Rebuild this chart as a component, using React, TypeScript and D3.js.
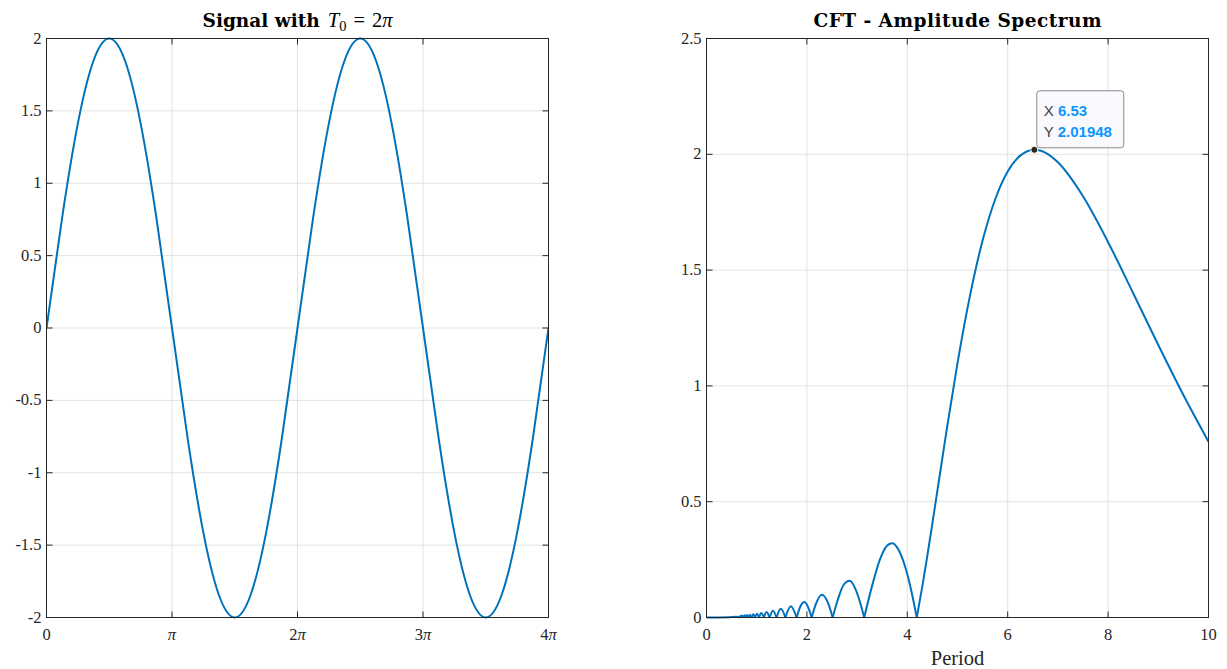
import React from 'react';
import * as d3 from 'd3';

// Time samples of the signal, in units of pi (0 .. 4pi)
const signalTimePi = [
  0, 0.125, 0.25, 0.375, 0.5, 0.625, 0.75, 0.875, 1, 1.125, 1.25, 1.375, 1.5, 1.625, 1.75, 1.875, 2,
  2.125, 2.25, 2.375, 2.5, 2.625, 2.75, 2.875, 3, 3.125, 3.25, 3.375, 3.5, 3.625, 3.75, 3.875, 4,
];
const signalValues = [
  0, 0.765, 1.414, 1.848, 2, 1.848, 1.414, 0.765, 0, -0.765, -1.414, -1.848, -2, -1.848, -1.414, -0.765, 0,
  0.765, 1.414, 1.848, 2, 1.848, 1.414, 0.765, 0, -0.765, -1.414, -1.848, -2, -1.848, -1.414, -0.765, 0,
];

// Amplitude spectrum against period; zero entries mark the nulls between lobes
const spectrumPeriod = [
  0, 0.25, 0.45, 0.6, 0.661388,
  0.679263, 0.698132,
  0.718078, 0.739198,
  0.761598, 0.785398,
  0.810733, 0.837758,
  0.866646, 0.897598,
  0.930842, 0.966644,
  1.00531, 1.047198,
  1.092728, 1.142397,
  1.196797, 1.256637,
  1.32278, 1.396263,
  1.48, 1.570796,
  1.68, 1.795196,
  1.87, 1.95, 2.03, 2.094395,
  2.18, 2.3, 2.42, 2.513274,
  2.62, 2.73, 2.85, 2.97, 3.06, 3.141593,
  3.3, 3.45, 3.6, 3.7, 3.8, 3.95, 4.05, 4.18879,
  4.3, 4.4, 4.5, 4.6, 4.8, 5.0, 5.25, 5.5, 5.75, 6.0, 6.25, 6.53, 6.8, 7.0, 7.5, 8.0, 8.5, 9.0, 9.5, 10,
];
const spectrumAmplitude = [
  0, 0.0005, 0.0015, 0.003, 0,
  0.00753, 0,
  0.00843, 0,
  0.00949, 0,
  0.01078, 0,
  0.01235, 0,
  0.01429, 0,
  0.01673, 0,
  0.01986, 0,
  0.02397, 0,
  0.02952, 0,
  0.03738, 0,
  0.04892, 0,
  0.04768, 0.06682, 0.04176, 0,
  0.05876, 0.09786, 0.06311, 0,
  0.08, 0.14045, 0.15825, 0.12159, 0.06507, 0,
  0.1376, 0.24775, 0.31099, 0.32017, 0.30163, 0.22437, 0.14357, 0,
  0.1354, 0.26784, 0.40669, 0.54888, 0.83166, 1.0983, 1.39105, 1.62771, 1.80497, 1.92537, 1.99428,
  2.01948, 2.00095, 1.96547, 1.81871, 1.62061, 1.4003, 1.17654, 0.96072, 0.75914,
];

// Data tip on the spectrum
const datatipPeriod = 6.53;

// Axis ticks
const signalXTicks = [0, 1, 2, 3, 4];
const signalXTickLabels = ['0', 'π', '2π', '3π', '4π'];
const signalYTicks = [-2, -1.5, -1, -0.5, 0, 0.5, 1, 1.5, 2];
const signalYTickLabels = ['-2', '-1.5', '-1', '-0.5', '0', '0.5', '1', '1.5', '2'];
const spectrumXTicks = [0, 2, 4, 6, 8, 10];
const spectrumXTickLabels = ['0', '2', '4', '6', '8', '10'];
const spectrumYTicks = [0, 0.5, 1, 1.5, 2, 2.5];
const spectrumYTickLabels = ['0', '0.5', '1', '1.5', '2', '2.5'];

const SERIF = '"Liberation Serif", "DejaVu Serif", serif';
const TITLE_SERIF = '"DejaVu Serif", "Liberation Serif", serif';
const SANS = '"Liberation Sans", Arial, sans-serif';
const AXIS_COLOR = '#262626';
const GRID_COLOR = '#e3e3e3';
const LINE_COLOR = '#0072BD';
const TICK_LEN = 6;
const TITLE_SIZE = 18.5;

type AxesProps = {
  x: d3.ScaleLinear<number, number>;
  y: d3.ScaleLinear<number, number>;
  xTicks: number[];
  xLabels: React.ReactNode[];
  yTicks: number[];
  yLabels: string[];
  clipId: string;
  children?: React.ReactNode;
};

function Axes({ x, y, xTicks, xLabels, yTicks, yLabels, clipId, children }: AxesProps) {
  const [x0, x1] = x.range();
  const [y0, y1] = y.range(); // y0 bottom, y1 top
  return (
    <g>
      <defs>
        <clipPath id={clipId}>
          <rect x={x0} y={y1 - 2} width={x1 - x0} height={y0 - y1 + 4} />
        </clipPath>
      </defs>
      {/* grid */}
      {xTicks.map((t) => (
        <line key={'gx' + t} x1={x(t)} x2={x(t)} y1={y1} y2={y0} stroke={GRID_COLOR} strokeWidth={1} />
      ))}
      {yTicks.map((t) => (
        <line key={'gy' + t} x1={x0} x2={x1} y1={y(t)} y2={y(t)} stroke={GRID_COLOR} strokeWidth={1} />
      ))}
      <g clipPath={`url(#${clipId})`}>{children}</g>
      {/* box */}
      <rect x={x0} y={y1} width={x1 - x0} height={y0 - y1} fill="none" stroke={AXIS_COLOR} strokeWidth={1} />
      {/* inward ticks on all four sides */}
      {xTicks.map((t) => (
        <g key={'tx' + t}>
          <line x1={x(t)} x2={x(t)} y1={y0} y2={y0 - TICK_LEN} stroke={AXIS_COLOR} />
          <line x1={x(t)} x2={x(t)} y1={y1} y2={y1 + TICK_LEN} stroke={AXIS_COLOR} />
        </g>
      ))}
      {yTicks.map((t) => (
        <g key={'ty' + t}>
          <line x1={x0} x2={x0 + TICK_LEN} y1={y(t)} y2={y(t)} stroke={AXIS_COLOR} />
          <line x1={x1} x2={x1 - TICK_LEN} y1={y(t)} y2={y(t)} stroke={AXIS_COLOR} />
        </g>
      ))}
      {/* tick labels */}
      {xTicks.map((t, i) => (
        <text key={'lx' + t} x={x(t)} y={y0 + 22} textAnchor="middle" fontFamily={SERIF} fontSize={16.5} fill={AXIS_COLOR}>
          {xLabels[i]}
        </text>
      ))}
      {yTicks.map((t, i) => (
        <text key={'ly' + t} x={x0 - 5} y={y(t) + 5} textAnchor="end" fontFamily={SERIF} fontSize={16.5} fill={AXIS_COLOR}>
          {yLabels[i]}
        </text>
      ))}
    </g>
  );
}

function piLabel(label: string) {
  if (!label.includes('π')) return label;
  const coef = label.replace('π', '');
  return (
    <>
      {coef}
      <tspan fontStyle="italic">π</tspan>
    </>
  );
}

export default function App() {
  // left panel: signal
  const xs = d3.scaleLinear().domain([0, 4]).range([46.5, 548.5]);
  const ys = d3.scaleLinear().domain([-2, 2]).range([617.5, 38.5]);
  const signalPoints = signalTimePi.map((t, i) => [t, signalValues[i]] as [number, number]);
  const signalPath = d3
    .line<[number, number]>()
    .x((d) => xs(d[0]))
    .y((d) => ys(d[1]))
    .curve(d3.curveNatural)(signalPoints);

  // right panel: spectrum
  const xp = d3.scaleLinear().domain([0, 10]).range([706.5, 1208.5]);
  const yp = d3.scaleLinear().domain([0, 2.5]).range([617.5, 38.5]);
  const spectrumPoints = spectrumPeriod.map((p, i) => [p, spectrumAmplitude[i]] as [number, number]);
  // split into lobes at the nulls so each null stays a sharp cusp
  const lobes: [number, number][][] = [];
  let current: [number, number][] = [];
  spectrumPoints.forEach((pt, i) => {
    current.push(pt);
    if (pt[1] === 0 && i > 0) {
      lobes.push(current);
      current = [pt];
    }
  });
  if (current.length > 1) lobes.push(current);
  const lobeLine = d3
    .line<[number, number]>()
    .x((d) => xp(d[0]))
    .y((d) => yp(d[1]))
    .curve(d3.curveMonotoneX);

  const tipIndex = spectrumPeriod.indexOf(datatipPeriod);
  const tipX = xp(spectrumPeriod[tipIndex]);
  const tipY = yp(spectrumAmplitude[tipIndex]);
  const boxX = tipX + 2.5;
  const boxY = tipY - 59;
  const boxW = 87;
  const boxH = 57;

  const leftCenter = (46.5 + 548.5) / 2;
  const rightCenter = (706.5 + 1208.5) / 2;

  return (
    <svg width={1227} height={669} style={{ position: 'absolute', left: 0, top: 0, display: 'block', background: '#fff' }}>
      <rect x={0} y={0} width={1227} height={669} fill="#fff" />

      {/* Signal panel */}
      <Axes
        x={xs}
        y={ys}
        xTicks={signalXTicks}
        xLabels={signalXTickLabels.map(piLabel)}
        yTicks={signalYTicks}
        yLabels={signalYTickLabels}
        clipId="clip-signal"
      >
        <path d={signalPath ?? ''} fill="none" stroke={LINE_COLOR} strokeWidth={2} strokeLinejoin="round" />
      </Axes>
      <text x={leftCenter} y={27} textAnchor="middle" fill="#000">
        <tspan fontFamily={TITLE_SERIF} fontWeight="bold" fontSize={TITLE_SIZE}>Signal with</tspan>
        <tspan dx={8} fontFamily={SERIF} fontStyle="italic" fontSize={20.5}>T</tspan>
        <tspan fontFamily={SERIF} fontSize={14.5} dy={4}>0</tspan>
        <tspan fontFamily={SERIF} fontSize={20.5} dy={-4} dx={7}>=</tspan>
        <tspan fontFamily={SERIF} fontSize={20.5} dx={7}>2</tspan>
        <tspan fontFamily={SERIF} fontSize={20.5} fontStyle="italic">π</tspan>
      </text>

      {/* Spectrum panel */}
      <Axes
        x={xp}
        y={yp}
        xTicks={spectrumXTicks}
        xLabels={spectrumXTickLabels}
        yTicks={spectrumYTicks}
        yLabels={spectrumYTickLabels}
        clipId="clip-spectrum"
      >
        {lobes.map((lobe, i) => (
          <path key={i} d={lobeLine(lobe) ?? ''} fill="none" stroke={LINE_COLOR} strokeWidth={2} strokeLinejoin="round" />
        ))}
      </Axes>
      <text
        x={rightCenter}
        y={27}
        textAnchor="middle"
        fontFamily={TITLE_SERIF}
        fontSize={TITLE_SIZE}
        fontWeight="bold"
        fill="#000"
        textLength={288}
        lengthAdjust="spacing"
      >
        CFT - Amplitude Spectrum
      </text>
      <text x={rightCenter} y={665} textAnchor="middle" fontFamily={SERIF} fontSize={20.5} fill={AXIS_COLOR}>
        Period
      </text>

      {/* data tip */}
      <rect x={boxX} y={boxY} width={boxW} height={boxH} rx={3} fill="#fafafe" stroke="#8a8a8a" strokeWidth={1} />
      <text x={boxX + 7} y={boxY + 25} fontFamily={SANS} fontSize={15} fill="#404040">
        X <tspan fontWeight="bold" fill="#0a96ff">{String(spectrumPeriod[tipIndex])}</tspan>
      </text>
      <text x={boxX + 7} y={boxY + 46} fontFamily={SANS} fontSize={15} fill="#404040">
        Y <tspan fontWeight="bold" fill="#0a96ff">{String(spectrumAmplitude[tipIndex])}</tspan>
      </text>
      <circle cx={tipX} cy={tipY} r={3.5} fill="#262626" stroke="#fffbe0" strokeWidth={1} />
    </svg>
  );
}
